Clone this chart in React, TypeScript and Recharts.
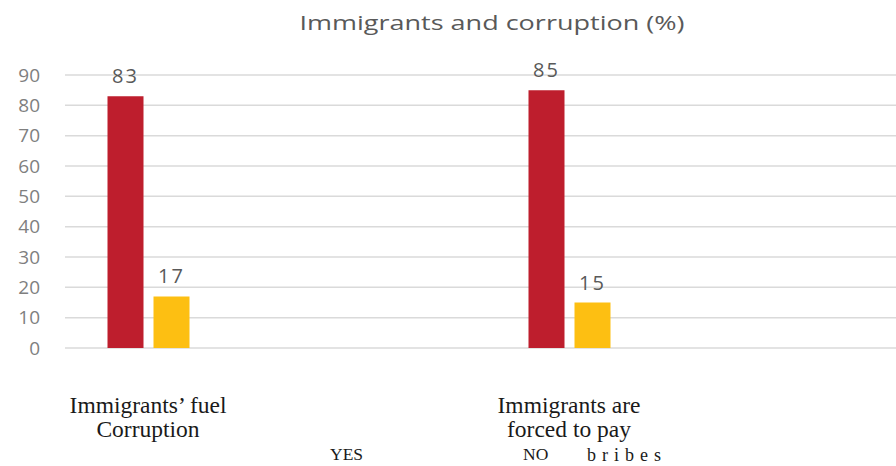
import { Bar, BarChart, CartesianGrid, LabelList, Legend, XAxis, YAxis } from "recharts"

const categories = ["Immigrants' fuel Corruption", "Immigrants are forced to pay bribes"]
const yesValues = [83, 85]
const noValues = [17, 15]
const yTicks = [0, 10, 20, 30, 40, 50, 60, 70, 80, 90]
const tickLines = [
  ["Immigrants\u2019 fuel", "Corruption"],
  ["Immigrants are", "forced to pay", "bribes"],
]
const legendNames = ["YES", "NO"]

const data = categories.map((category, i) => ({
  category,
  yes: yesValues[i],
  no: noValues[i],
}))

const sans = "'Open Sans', sans-serif"
const serif = "'Liberation Serif', 'Times New Roman', serif"

function CategoryTick(props: any) {
  const { x, y, index } = props
  const lines = tickLines[index] || []
  return (
    <g>
      {lines.map((line, i) => {
        const last = index === 1 && i === 2
        return (
          <text
            key={i}
            x={last ? x + 58 : x}
            y={y + 63 + i * 24}
            textAnchor="middle"
            fontFamily={serif}
            fontSize={last ? 18 : 23.5}
            letterSpacing={last ? 6 : 0}
            fill="#1a1a1a"
          >
            {line}
          </text>
        )
      })}
    </g>
  )
}

function LegendText() {
  return (
    <div style={{ position: "relative", height: 24, fontFamily: serif, fontSize: 17.5, color: "#1a1a1a" }}>
      <span style={{ position: "absolute", left: 330, top: 2 }}>{legendNames[0]}</span>
      <span style={{ position: "absolute", left: 523, top: 2 }}>{legendNames[1]}</span>
    </div>
  )
}

export default function App() {
  return (
    <div style={{ position: "relative", width: 896, height: 466 }}>
      <style>{"body { margin: 0; }"}</style>
      <div
        style={{
          position: "absolute",
          left: 0,
          width: 984,
          top: 10,
          textAlign: "center",
          fontFamily: sans,
          fontSize: 20,
          color: "#595959",
          lineHeight: "26px",
          transform: "scaleX(1.35)",
          transformOrigin: "492px 0",
        }}
      >
        Immigrants and corruption (%)
      </div>
      <BarChart
        width={896}
        height={466}
        data={data}
        margin={{ top: 75, right: 0, bottom: 0, left: 0 }}
        barSize={36}
        barGap={10}
      >
        <CartesianGrid vertical={false} stroke="#dadada" strokeWidth={1.5} />
        <XAxis
          dataKey="category"
          axisLine={false}
          tickLine={false}
          tickSize={0}
          height={94}
          interval={0}
          padding={{ left: -127.5, right: 116.5 }}
          tick={<CategoryTick />}
        />
        <YAxis
          domain={[0, 90]}
          ticks={yTicks}
          interval={0}
          width={65}
          axisLine={false}
          tickLine={false}
          tickSize={0}
          tickMargin={25}
          tick={{ fill: "#7f7f7f", fontSize: 19, fontFamily: sans }}
        />
        <Legend verticalAlign="bottom" height={24} content={<LegendText />} />
        <Bar dataKey="yes" name="YES" fill="#be1e2d" isAnimationActive={false}>
          <LabelList dataKey="yes" position="top" offset={13} fill="#595959" fontSize={20} fontFamily={sans} letterSpacing={2} />
        </Bar>
        <Bar dataKey="no" name="NO" fill="#fdbf12" isAnimationActive={false}>
          <LabelList dataKey="no" position="top" offset={13} fill="#595959" fontSize={20} fontFamily={sans} letterSpacing={2} />
        </Bar>
      </BarChart>
    </div>
  )
}
